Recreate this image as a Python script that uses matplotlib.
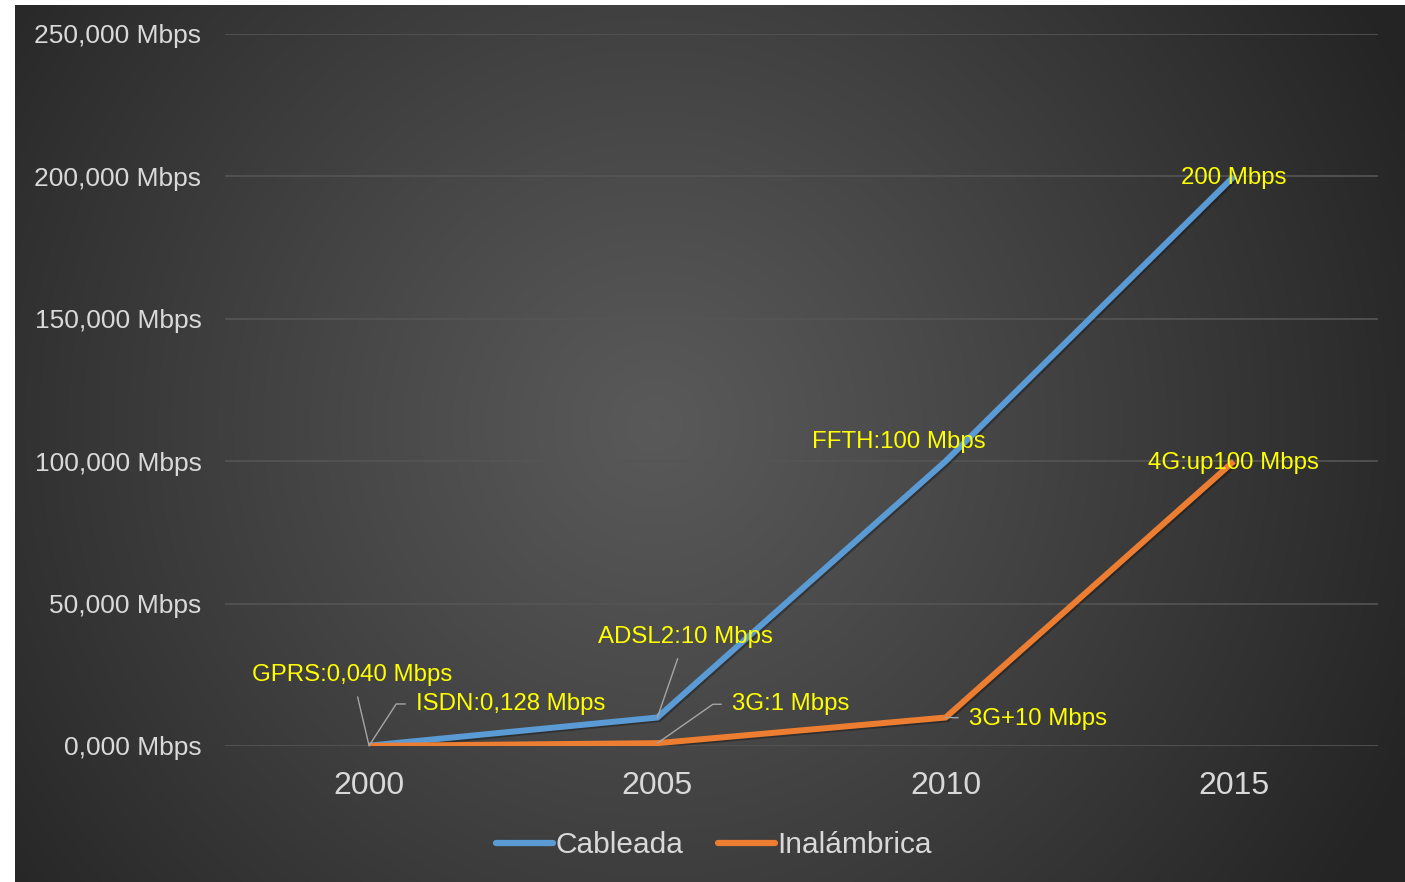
import numpy as np
import matplotlib.pyplot as plt
import matplotlib.patheffects as pe

plt.rcParams['font.family'] = ['Liberation Sans', 'DejaVu Sans']

years = ['2000', '2005', '2010', '2015']
cableada = [128, 10000, 100000, 200000]
inalambrica = [40, 1000, 10000, 100000]
ytick_vals = [0, 50000, 100000, 150000, 200000, 250000]
ytick_labels = ['0,000 Mbps', '50,000 Mbps', '100,000 Mbps',
                '150,000 Mbps', '200,000 Mbps', '250,000 Mbps']

W, H = 1405, 882
fig = plt.figure(figsize=(W / 100, H / 100), dpi=100, facecolor='white')

# dark radial gradient background
bg = fig.add_axes([15 / W, 0, 1 - 15 / W, 1 - 5 / H])
bg.set_axis_off()
gx, gy = np.meshgrid(np.linspace(0, 1390, 300), np.linspace(0, 877, 200))
r = np.sqrt((gx - 640) ** 2 + (gy - 420) ** 2) / 820
r = np.clip(r, 0, 1)
shade = 0.35 - (0.35 - 0.145) * r ** 1.1
bg.imshow(np.dstack([shade] * 3), extent=[0, 1, 0, 1], aspect='auto',
          interpolation='bilinear')
bg.set_xlim(0, 1)
bg.set_ylim(0, 1)

ax = fig.add_axes([225 / W, (H - 746) / H, (1378 - 225) / W, (746 - 34) / H])
ax.patch.set_alpha(0)
x = np.arange(len(years))

shadow = [pe.SimpleLineShadow(offset=(1.2, -1.2), shadow_color='black', alpha=0.3), pe.Normal()]
ax.plot(x, cableada, color='#5B9BD5', lw=4.3, solid_joinstyle='miter',
        solid_capstyle='butt', label='Cableada', path_effects=shadow, zorder=3)
ax.plot(x, inalambrica, color='#ED7D31', lw=4.3, solid_joinstyle='miter',
        solid_capstyle='butt', label='Inalámbrica', path_effects=shadow, zorder=3)

ax.set_xlim(-0.5, 3.5)
ax.set_ylim(0, 250000)
ax.set_yticks(ytick_vals)
ax.set_yticklabels(ytick_labels)
ax.set_xticks(x)
ax.set_xticklabels(years)
ax.tick_params(axis='y', length=0, pad=17, labelsize=19, labelcolor='#d9d9d9')
ax.tick_params(axis='x', length=0, pad=18, labelsize=23, labelcolor='#d9d9d9')
for s in ax.spines.values():
    s.set_visible(False)
ax.grid(axis='y', color='#555555', lw=1.2)
ax.set_axisbelow(True)

yel = '#FFFF00'
lead = dict(arrowstyle='-', color='#a6a6a6', lw=1, shrinkA=2, shrinkB=0)
fs = 17.3

ax.annotate('GPRS:0,040 Mbps', xy=(0, inalambrica[0]), xytext=(-12, 51),
            textcoords='offset points', ha='center', va='center', color=yel,
            fontsize=fs, arrowprops=dict(lead, shrinkA=6), zorder=5)
ax.annotate('ISDN:0,128 Mbps', xy=(0, cableada[0]), xytext=(34, 30),
            textcoords='offset points', ha='left', va='center', color=yel,
            fontsize=fs, zorder=5,
            arrowprops=dict(lead, shrinkA=6,
                            connectionstyle='angle,angleA=180,angleB=57,rad=0'))
ax.annotate('ADSL2:10 Mbps', xy=(1, cableada[1]), xytext=(20, 58),
            textcoords='offset points', ha='center', va='center', color=yel,
            fontsize=fs, arrowprops=dict(lead, shrinkA=6), zorder=5)
ax.annotate('3G:1 Mbps', xy=(1, inalambrica[1]), xytext=(54, 28),
            textcoords='offset points', ha='left', va='center', color=yel,
            fontsize=fs, zorder=5,
            arrowprops=dict(lead, shrinkA=6,
                            connectionstyle='angle,angleA=180,angleB=35,rad=0'))
ax.annotate('FFTH:100 Mbps', xy=(2, cableada[2]), xytext=(-34, 14),
            textcoords='offset points', ha='center', va='center', color=yel,
            fontsize=fs, zorder=5)
ax.annotate('200 Mbps', xy=(3, cableada[3]), xytext=(0, -1),
            textcoords='offset points', ha='center', va='center', color=yel,
            fontsize=fs, zorder=5)
ax.annotate('4G:up100 Mbps', xy=(3, inalambrica[3]), xytext=(0, -1),
            textcoords='offset points', ha='center', va='center', color=yel,
            fontsize=fs, zorder=5)
ax.annotate('3G+10 Mbps', xy=(2, inalambrica[2]), xytext=(17, -1),
            textcoords='offset points', ha='left', va='center', color=yel,
            fontsize=fs, arrowprops=dict(lead, shrinkA=6), zorder=5)

leg = ax.legend(loc='center', bbox_to_anchor=(714 / W, (H - 845) / H),
                bbox_transform=fig.transFigure, ncol=2, frameon=False,
                fontsize=21.5, handlelength=1.9, handletextpad=0.1,
                columnspacing=1.15, labelcolor='#d9d9d9')
for h in leg.legend_handles:
    h.set_linewidth(4.5)
    h.set_solid_capstyle('round')
    h.set_path_effects([])

fig.savefig('out.png', dpi=100, facecolor='white')
